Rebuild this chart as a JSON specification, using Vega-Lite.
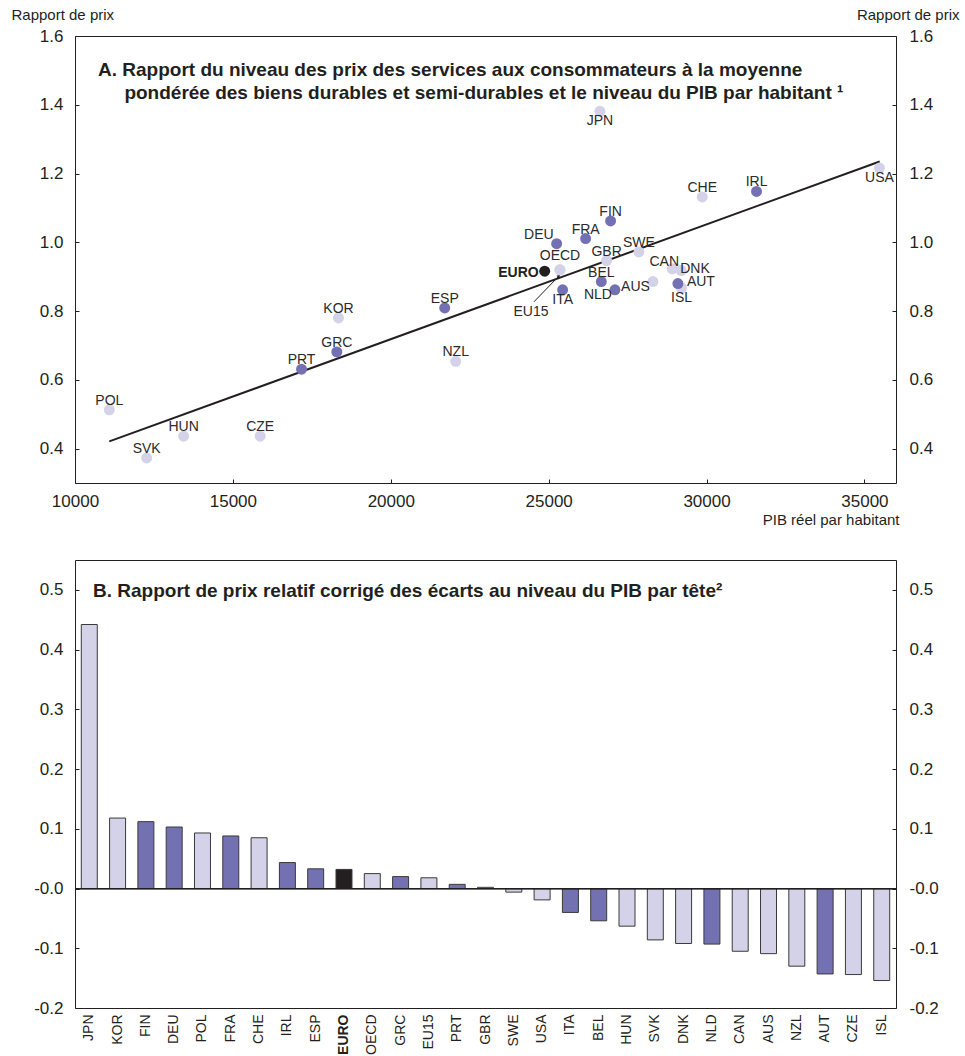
{
  "$schema": "https://vega.github.io/schema/vega-lite/v6.json",
  "background": "white",
  "padding": {"left": 10, "top": 6, "right": 5, "bottom": 5},
  "spacing": 31,
  "config": {
    "font": "Liberation Sans",
    "view": {"stroke": "#231F20", "strokeWidth": 1},
    "axis": {
      "grid": false,
      "domain": false,
      "labelFont": "Liberation Sans",
      "labelColor": "#231F20",
      "labelFontSize": 17,
      "tickColor": "#231F20",
      "tickSize": -4,
      "titleFont": "Liberation Sans",
      "titleColor": "#231F20",
      "titleFontWeight": "normal",
      "titleFontSize": 15
    },
    "title": {"font": "Liberation Sans", "color": "#231F20"}
  },
  "datasets": {
    "pts": [
      {"code": "POL", "gdp": 11086, "ratio": 0.513, "grp": "autres"},
      {"code": "SVK", "gdp": 12269, "ratio": 0.373, "grp": "autres"},
      {"code": "HUN", "gdp": 13440, "ratio": 0.436, "grp": "autres"},
      {"code": "CZE", "gdp": 15864, "ratio": 0.436, "grp": "autres"},
      {"code": "KOR", "gdp": 18345, "ratio": 0.780, "grp": "autres"},
      {"code": "NZL", "gdp": 22057, "ratio": 0.654, "grp": "autres"},
      {"code": "JPN", "gdp": 26624, "ratio": 1.381, "grp": "autres"},
      {"code": "USA", "gdp": 35475, "ratio": 1.216, "grp": "autres"},
      {"code": "CHE", "gdp": 29864, "ratio": 1.132, "grp": "autres"},
      {"code": "SWE", "gdp": 27858, "ratio": 0.972, "grp": "autres"},
      {"code": "GBR", "gdp": 26836, "ratio": 0.947, "grp": "autres"},
      {"code": "OECD", "gdp": 25358, "ratio": 0.920, "grp": "autres"},
      {"code": "EU15", "gdp": 25358, "ratio": 0.920, "grp": "autres"},
      {"code": "CAN", "gdp": 28915, "ratio": 0.923, "grp": "autres"},
      {"code": "DNK", "gdp": 29199, "ratio": 0.918, "grp": "autres"},
      {"code": "AUS", "gdp": 28301, "ratio": 0.886, "grp": "autres"},
      {"code": "ISL", "gdp": 29209, "ratio": 0.867, "grp": "autres"},
      {"code": "PRT", "gdp": 17174, "ratio": 0.631, "grp": "zone euro"},
      {"code": "GRC", "gdp": 18291, "ratio": 0.681, "grp": "zone euro"},
      {"code": "ESP", "gdp": 21709, "ratio": 0.809, "grp": "zone euro"},
      {"code": "IRL", "gdp": 31583, "ratio": 1.148, "grp": "zone euro"},
      {"code": "FIN", "gdp": 26962, "ratio": 1.062, "grp": "zone euro"},
      {"code": "FRA", "gdp": 26171, "ratio": 1.011, "grp": "zone euro"},
      {"code": "DEU", "gdp": 25253, "ratio": 0.996, "grp": "zone euro"},
      {"code": "BEL", "gdp": 26668, "ratio": 0.886, "grp": "zone euro"},
      {"code": "ITA", "gdp": 25443, "ratio": 0.862, "grp": "zone euro"},
      {"code": "NLD", "gdp": 27099, "ratio": 0.862, "grp": "zone euro"},
      {"code": "AUT", "gdp": 29093, "ratio": 0.880, "grp": "zone euro"},
      {"code": "EURO", "gdp": 24874, "ratio": 0.916, "grp": "EURO"}
    ],
    "fit": [
      {"gdp": 11086, "ratio": 0.421},
      {"gdp": 35485, "ratio": 1.235}
    ],
    "arrow": [
      {"gdp": 24535, "ratio": 0.827, "gdp2": 25326, "ratio2": 0.902}
    ],
    "bars": [
      {"code": "JPN", "val": 0.442, "grp": "autres"},
      {"code": "KOR", "val": 0.118, "grp": "autres"},
      {"code": "FIN", "val": 0.112, "grp": "zone euro"},
      {"code": "DEU", "val": 0.103, "grp": "zone euro"},
      {"code": "POL", "val": 0.093, "grp": "autres"},
      {"code": "FRA", "val": 0.088, "grp": "zone euro"},
      {"code": "CHE", "val": 0.085, "grp": "autres"},
      {"code": "IRL", "val": 0.0435, "grp": "zone euro"},
      {"code": "ESP", "val": 0.033, "grp": "zone euro"},
      {"code": "EURO", "val": 0.032, "grp": "EURO"},
      {"code": "OECD", "val": 0.025, "grp": "autres"},
      {"code": "GRC", "val": 0.020, "grp": "zone euro"},
      {"code": "EU15", "val": 0.018, "grp": "autres"},
      {"code": "PRT", "val": 0.007, "grp": "zone euro"},
      {"code": "GBR", "val": 0.002, "grp": "autres"},
      {"code": "SWE", "val": -0.006, "grp": "autres"},
      {"code": "USA", "val": -0.019, "grp": "autres"},
      {"code": "ITA", "val": -0.040, "grp": "zone euro"},
      {"code": "BEL", "val": -0.054, "grp": "zone euro"},
      {"code": "HUN", "val": -0.063, "grp": "autres"},
      {"code": "SVK", "val": -0.086, "grp": "autres"},
      {"code": "DNK", "val": -0.092, "grp": "autres"},
      {"code": "NLD", "val": -0.093, "grp": "zone euro"},
      {"code": "CAN", "val": -0.105, "grp": "autres"},
      {"code": "AUS", "val": -0.109, "grp": "autres"},
      {"code": "NZL", "val": -0.130, "grp": "autres"},
      {"code": "AUT", "val": -0.143, "grp": "zone euro"},
      {"code": "CZE", "val": -0.144, "grp": "autres"},
      {"code": "ISL", "val": -0.154, "grp": "autres"}
    ]
  },
  "vconcat": [
    {
      "width": 821,
      "height": 447,
      "title": {
        "text": [
          "A. Rapport du niveau des prix des services aux consommateurs à la moyenne",
          "\u200b\u00a0\u00a0\u00a0\u00a0\u00a0pondérée des biens durables et semi-durables et le niveau du PIB par habitant ¹"
        ],
        "anchor": "start",
        "frame": "group",
        "orient": "top",
        "offset": 0,
        "dx": 23,
        "dy": 96,
        "baseline": "top",
        "fontSize": 19,
        "fontWeight": "bold",
        "lineHeight": 23
      },
      "resolve": {"axis": {"y": "independent"}},
      "layer": [
        {
          "data": {"name": "fit"},
          "mark": {"type": "line", "color": "#231F20", "strokeWidth": 2},
          "encoding": {
            "x": {
              "field": "gdp", "type": "quantitative",
              "scale": {"domain": [10000, 36000], "nice": false, "zero": false},
              "axis": {
                "orient": "bottom",
                "values": [10000, 15000, 20000, 25000, 30000, 35000],
                "format": "d",
                "labelFlush": false,
                "labelPadding": 14,
                "title": "PIB réel par habitant",
                "titleAnchor": "end",
                "titleAlign": "right",
                "titleBaseline": "middle",
                "titleX": 824,
                "titleY": 36
              }
            },
            "y": {
              "field": "ratio", "type": "quantitative",
              "scale": {"domain": [0.3, 1.6], "nice": false, "zero": false},
              "axis": {
                "orient": "left",
                "values": [0.4, 0.6, 0.8, 1.0, 1.2, 1.4, 1.6],
                "format": ".1f",
                "labelFlush": false,
                "labelPadding": 16,
                "title": "Rapport de prix",
                "titleAngle": 0,
                "titleAlign": "left",
                "titleBaseline": "middle",
                "titleX": -64,
                "titleY": -22
              }
            }
          }
        },
        {
          "data": {"name": "arrow"},
          "mark": {"type": "rule", "color": "#231F20", "strokeWidth": 1},
          "encoding": {
            "x": {"field": "gdp", "type": "quantitative", "scale": {"domain": [10000, 36000], "nice": false, "zero": false}},
            "y": {"field": "ratio", "type": "quantitative", "scale": {"domain": [0.3, 1.6], "nice": false, "zero": false}, "axis": null},
            "x2": {"field": "gdp2"},
            "y2": {"field": "ratio2"}
          }
        },
        {
          "data": {"name": "arrow"},
          "mark": {"type": "point", "shape": "triangle-up", "angle": 44, "size": 14, "filled": true, "opacity": 1, "color": "#231F20"},
          "encoding": {
            "x": {"field": "gdp2", "type": "quantitative", "scale": {"domain": [10000, 36000], "nice": false, "zero": false}},
            "y": {"field": "ratio2", "type": "quantitative", "scale": {"domain": [0.3, 1.6], "nice": false, "zero": false}, "axis": null}
          }
        },
        {
          "data": {"name": "pts"},
          "mark": {"type": "circle", "size": 120, "opacity": 1},
          "encoding": {
            "x": {"field": "gdp", "type": "quantitative", "scale": {"domain": [10000, 36000], "nice": false, "zero": false}},
            "y": {
              "field": "ratio", "type": "quantitative",
              "scale": {"domain": [0.3, 1.6], "nice": false, "zero": false},
              "axis": {
                "orient": "right",
                "values": [0.4, 0.6, 0.8, 1.0, 1.2, 1.4, 1.6],
                "format": ".1f",
                "labelFlush": false,
                "labelPadding": 17,
                "title": "Rapport de prix",
                "titleAngle": 0,
                "titleAlign": "right",
                "titleBaseline": "middle",
                "titleX": 63,
                "titleY": -22
              }
            },
            "color": {
              "field": "grp", "type": "nominal",
              "scale": {"domain": ["autres", "zone euro", "EURO"], "range": ["#D3D2E8", "#7471B3", "#231F20"]},
              "legend": null
            }
          }
        },
        {
          "data": {"name": "pts"},
          "transform": [{"filter": {"field": "code", "oneOf": ["POL", "SVK", "HUN", "CZE", "PRT", "GRC", "KOR", "ESP", "NZL", "CHE", "IRL", "FIN", "FRA", "SWE", "GBR", "BEL"]}}],
          "mark": {"type": "text", "fontSize": 14, "color": "#2a2a2a", "align": "center", "baseline": "middle", "dy": -9},
          "encoding": {
            "x": {"field": "gdp", "type": "quantitative", "scale": {"domain": [10000, 36000], "nice": false, "zero": false}},
            "y": {"field": "ratio", "type": "quantitative", "scale": {"domain": [0.3, 1.6], "nice": false, "zero": false}, "axis": null},
            "text": {"field": "code"}
          }
        },
        {
          "data": {"name": "pts"},
          "transform": [{"filter": {"field": "code", "oneOf": ["JPN", "USA", "ITA", "ISL"]}}],
          "mark": {"type": "text", "fontSize": 14, "color": "#2a2a2a", "align": "center", "baseline": "middle", "dy": 10},
          "encoding": {
            "x": {"field": "gdp", "type": "quantitative", "scale": {"domain": [10000, 36000], "nice": false, "zero": false}},
            "y": {"field": "ratio", "type": "quantitative", "scale": {"domain": [0.3, 1.6], "nice": false, "zero": false}, "axis": null},
            "text": {"field": "code"}
          }
        },
        {
          "data": {"name": "pts"},
          "transform": [{"filter": {"field": "code", "equal": "OECD"}}],
          "mark": {"type": "text", "fontSize": 14, "color": "#2a2a2a", "align": "center", "baseline": "middle", "dy": -14},
          "encoding": {
            "x": {"field": "gdp", "type": "quantitative", "scale": {"domain": [10000, 36000], "nice": false, "zero": false}},
            "y": {"field": "ratio", "type": "quantitative", "scale": {"domain": [0.3, 1.6], "nice": false, "zero": false}, "axis": null},
            "text": {"field": "code"}
          }
        },
        {
          "data": {"name": "pts"},
          "transform": [{"filter": {"field": "code", "equal": "EU15"}}],
          "mark": {"type": "text", "fontSize": 14, "color": "#2a2a2a", "align": "center", "baseline": "middle", "dx": -29, "dy": 42},
          "encoding": {
            "x": {"field": "gdp", "type": "quantitative", "scale": {"domain": [10000, 36000], "nice": false, "zero": false}},
            "y": {"field": "ratio", "type": "quantitative", "scale": {"domain": [0.3, 1.6], "nice": false, "zero": false}, "axis": null},
            "text": {"field": "code"}
          }
        },
        {
          "data": {"name": "pts"},
          "transform": [{"filter": {"field": "code", "equal": "DEU"}}],
          "mark": {"type": "text", "fontSize": 14, "color": "#2a2a2a", "align": "right", "baseline": "middle", "dx": -3, "dy": -9},
          "encoding": {
            "x": {"field": "gdp", "type": "quantitative", "scale": {"domain": [10000, 36000], "nice": false, "zero": false}},
            "y": {"field": "ratio", "type": "quantitative", "scale": {"domain": [0.3, 1.6], "nice": false, "zero": false}, "axis": null},
            "text": {"field": "code"}
          }
        },
        {
          "data": {"name": "pts"},
          "transform": [{"filter": {"field": "code", "equal": "CAN"}}],
          "mark": {"type": "text", "fontSize": 14, "color": "#2a2a2a", "align": "center", "baseline": "middle", "dx": -8, "dy": -7},
          "encoding": {
            "x": {"field": "gdp", "type": "quantitative", "scale": {"domain": [10000, 36000], "nice": false, "zero": false}},
            "y": {"field": "ratio", "type": "quantitative", "scale": {"domain": [0.3, 1.6], "nice": false, "zero": false}, "axis": null},
            "text": {"field": "code"}
          }
        },
        {
          "data": {"name": "pts"},
          "transform": [{"filter": {"field": "code", "equal": "DNK"}}],
          "mark": {"type": "text", "fontSize": 14, "color": "#2a2a2a", "align": "left", "baseline": "middle", "dx": -1, "dy": -2},
          "encoding": {
            "x": {"field": "gdp", "type": "quantitative", "scale": {"domain": [10000, 36000], "nice": false, "zero": false}},
            "y": {"field": "ratio", "type": "quantitative", "scale": {"domain": [0.3, 1.6], "nice": false, "zero": false}, "axis": null},
            "text": {"field": "code"}
          }
        },
        {
          "data": {"name": "pts"},
          "transform": [{"filter": {"field": "code", "oneOf": ["AUS", "NLD"]}}],
          "mark": {"type": "text", "fontSize": 14, "color": "#2a2a2a", "align": "right", "baseline": "middle", "dx": -3, "dy": 5},
          "encoding": {
            "x": {"field": "gdp", "type": "quantitative", "scale": {"domain": [10000, 36000], "nice": false, "zero": false}},
            "y": {"field": "ratio", "type": "quantitative", "scale": {"domain": [0.3, 1.6], "nice": false, "zero": false}, "axis": null},
            "text": {"field": "code"}
          }
        },
        {
          "data": {"name": "pts"},
          "transform": [{"filter": {"field": "code", "equal": "AUT"}}],
          "mark": {"type": "text", "fontSize": 14, "color": "#2a2a2a", "align": "left", "baseline": "middle", "dx": 9, "dy": -2},
          "encoding": {
            "x": {"field": "gdp", "type": "quantitative", "scale": {"domain": [10000, 36000], "nice": false, "zero": false}},
            "y": {"field": "ratio", "type": "quantitative", "scale": {"domain": [0.3, 1.6], "nice": false, "zero": false}, "axis": null},
            "text": {"field": "code"}
          }
        },
        {
          "data": {"name": "pts"},
          "transform": [{"filter": {"field": "code", "equal": "EURO"}}],
          "mark": {"type": "text", "fontSize": 14, "fontWeight": "bold", "color": "#231F20", "align": "right", "baseline": "middle", "dx": -6, "dy": 2},
          "encoding": {
            "x": {"field": "gdp", "type": "quantitative", "scale": {"domain": [10000, 36000], "nice": false, "zero": false}},
            "y": {"field": "ratio", "type": "quantitative", "scale": {"domain": [0.3, 1.6], "nice": false, "zero": false}, "axis": null},
            "text": {"field": "code"}
          }
        }
      ]
    },
    {
      "width": 821,
      "height": 448,
      "title": {
        "text": "B. Rapport de prix relatif corrigé des écarts au niveau du PIB par tête²",
        "anchor": "start",
        "frame": "group",
        "orient": "top",
        "offset": 0,
        "dx": 18,
        "dy": 41,
        "baseline": "top",
        "fontSize": 19,
        "fontWeight": "bold"
      },
      "data": {"name": "bars"},
      "resolve": {"axis": {"y": "independent"}},
      "layer": [
        {
          "mark": {"type": "bar", "stroke": "#3a3a3a", "strokeWidth": 1},
          "encoding": {
            "x": {
              "field": "code", "type": "nominal", "sort": null,
              "scale": {"paddingInner": 0.435, "paddingOuter": 0.222},
              "axis": {
                "title": null,
                "ticks": false,
                "labelAngle": -90,
                "labelFontSize": 14,
                "labelPadding": 6,
                "labelFontWeight": {"condition": {"test": "datum.value === 'EURO'", "value": "bold"}, "value": "normal"}
              }
            },
            "y": {
              "field": "val", "type": "quantitative",
              "scale": {"domain": [-0.2, 0.55], "nice": false, "zero": false},
              "axis": {
                "orient": "left",
                "title": null,
                "values": [-0.2, -0.1, 0, 0.1, 0.2, 0.3, 0.4, 0.5],
                "labelExpr": "(datum.value <= 0 ? '-' : '') + format(abs(datum.value), '.1f')",
                "labelFlush": false,
                "labelPadding": 16
              }
            },
            "color": {
              "field": "grp", "type": "nominal",
              "scale": {"domain": ["autres", "zone euro", "EURO"], "range": ["#D3D2E8", "#7471B3", "#231F20"]},
              "legend": null
            }
          }
        },
        {
          "mark": {"type": "rule", "color": "#231F20", "strokeWidth": 1},
          "encoding": {
            "y": {
              "datum": 0, "type": "quantitative",
              "scale": {"domain": [-0.2, 0.55], "nice": false, "zero": false},
              "axis": {
                "orient": "right",
                "title": null,
                "values": [-0.2, -0.1, 0, 0.1, 0.2, 0.3, 0.4, 0.5],
                "labelExpr": "(datum.value <= 0 ? '-' : '') + format(abs(datum.value), '.1f')",
                "labelFlush": false,
                "labelPadding": 17
              }
            }
          }
        }
      ]
    }
  ]
}
